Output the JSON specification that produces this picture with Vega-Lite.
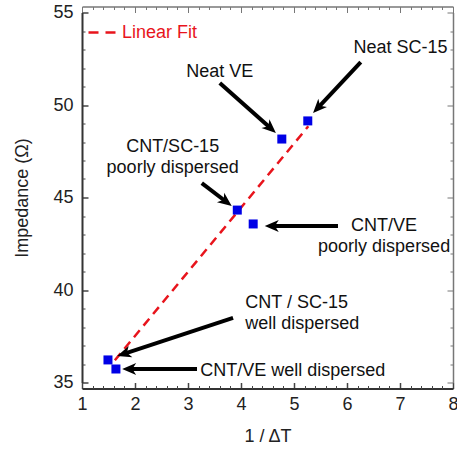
{
  "$schema": "https://vega.github.io/schema/vega-lite/v6.json",
  "width": 371,
  "height": 370,
  "autosize": {"type": "none"},
  "padding": {"left": 82, "top": 12.5, "right": 4, "bottom": 66.5},
  "background": "white",
  "config": {
    "view": {"stroke": null},
    "font": "Liberation Sans",
    "axis": {
      "grid": false,
      "labelFont": "Liberation Sans",
      "titleFont": "Liberation Sans",
      "labelFontSize": 18,
      "titleFontSize": 18,
      "titleFontWeight": "normal",
      "labelColor": "#222",
      "titleColor": "#222",
      "tickColor": "#444",
      "domainColor": "#333"
    }
  },
  "datasets": {
    "pts": [
      {"name": "Neat SC-15", "x": 5.26, "y": 49.14},
      {"name": "Neat VE", "x": 4.77, "y": 48.16},
      {"name": "CNT/SC-15 poorly dispersed", "x": 3.93, "y": 44.32},
      {"name": "CNT/VE poorly dispersed", "x": 4.23, "y": 43.57},
      {"name": "CNT/SC-15 well dispersed", "x": 1.49, "y": 36.22},
      {"name": "CNT/VE well dispersed", "x": 1.64, "y": 35.73}
    ],
    "fit": [
      {"x": 1.62, "y": 36.2, "series": "Linear Fit"},
      {"x": 5.27, "y": 48.85, "series": "Linear Fit"}
    ],
    "arrows": [
      {"x": 3.6, "y": 51.19, "x2": 4.56, "y2": 48.74, "dir": 41.8},
      {"x": 6.26, "y": 52.32, "x2": 5.45, "y2": 49.84, "dir": 133.3},
      {"x": 3.26, "y": 45.78, "x2": 3.72, "y2": 44.77, "dir": 37.5},
      {"x": 5.83, "y": 43.46, "x2": 4.58, "y2": 43.46, "dir": 180},
      {"x": 3.85, "y": 38.49, "x2": 1.79, "y2": 36.55, "dir": 161.9},
      {"x": 3.17, "y": 35.73, "x2": 1.89, "y2": 35.73, "dir": 180}
    ],
    "notesC": [
      {"text": "Neat VE", "x": 3.6, "y": 51.78},
      {"text": "Neat SC-15", "x": 7.01, "y": 53.08},
      {"text": "CNT/SC-15\npoorly dispersed", "x": 2.71, "y": 47.73},
      {"text": "CNT/VE\npoorly dispersed", "x": 6.7, "y": 43.46}
    ],
    "notesL": [
      {"text": "CNT / SC-15\nwell dispersed", "x": 4.08, "y": 39.3},
      {"text": "CNT/VE well dispersed", "x": 3.23, "y": 35.62}
    ]
  },
  "resolve": {"axis": {"x": "independent", "y": "independent"}},
  "layer": [
    {
      "data": {"name": "fit"},
      "mark": {"type": "line", "strokeDash": [9, 6], "strokeWidth": 2.5},
      "encoding": {
        "x": {"field": "x", "type": "quantitative",
          "scale": {"domain": [1, 8], "nice": false, "zero": false},
          "axis": {"orient": "bottom", "offset": 6, "values": [1, 2, 3, 4, 5, 6, 7, 8], "tickSize": -6, "tickWidth": 1.5, "labelPadding": 13, "domainWidth": 2, "title": "1 / ΔT", "titlePadding": 14, "labelFlush": false, "labelOverlap": false}},
        "y": {"field": "y", "type": "quantitative",
          "scale": {"domain": [35, 55], "nice": false, "zero": false},
          "axis": {"orient": "left", "values": [35, 40, 45, 50, 55], "tickSize": -6, "tickWidth": 1.5, "labelPadding": 15, "domainWidth": 2, "title": "Impedance (Ω)", "titlePadding": 21, "labelFlush": false, "labelOverlap": false}},
        "color": {"field": "series", "type": "nominal",
          "scale": {"range": ["#e8141c"]},
          "legend": {"title": null, "orient": "top-left", "offset": 5, "padding": 0, "symbolType": "stroke", "symbolSize": 729, "symbolStrokeWidth": 2.5, "symbolDash": [10, 7], "labelFontSize": 18, "labelFont": "Liberation Sans", "labelColor": "#e8141c", "labelOffset": 5}}
      }
    },
    {
      "data": {"name": "arrows"},
      "mark": {"type": "rule", "strokeWidth": 4, "color": "#000"},
      "encoding": {
        "x": {"field": "x", "type": "quantitative",
          "scale": {"domain": [1, 8], "nice": false, "zero": false},
          "axis": {"orient": "top", "offset": 6, "values": [1, 2, 3, 4, 5, 6, 7, 8], "tickSize": -6, "labels": false, "title": null, "domainColor": "#777", "domainWidth": 1.5, "tickColor": "#777"}},
        "y": {"field": "y", "type": "quantitative",
          "scale": {"domain": [35, 55], "nice": false, "zero": false},
          "axis": {"orient": "right", "values": [35, 40, 45, 50, 55], "tickSize": -6, "labels": false, "title": null, "domainColor": "#777", "domainWidth": 1.5, "tickColor": "#777"}},
        "x2": {"field": "x2"},
        "y2": {"field": "y2"}
      }
    },
    {
      "data": {"name": "arrows"},
      "mark": {"type": "point", "shape": "M1,0 L-1,-0.85 L-0.45,0 L-1,0.85 Z", "size": 196, "filled": true, "color": "#000", "opacity": 1},
      "encoding": {
        "x": {"field": "x2", "type": "quantitative",
          "scale": {"domain": [1, 8], "nice": false, "zero": false},
          "axis": {"orient": "bottom", "offset": 6, "values": [1.2, 1.4, 1.6, 1.8, 2.2, 2.4, 2.6, 2.8, 3.2, 3.4, 3.6, 3.8, 4.2, 4.4, 4.6, 4.8, 5.2, 5.4, 5.6, 5.8, 6.2, 6.4, 6.6, 6.8, 7.2, 7.4, 7.6, 7.8], "tickSize": -3, "labels": false, "domain": false, "title": null}},
        "y": {"field": "y2", "type": "quantitative",
          "scale": {"domain": [35, 55], "nice": false, "zero": false},
          "axis": {"orient": "left", "values": [36, 37, 38, 39, 41, 42, 43, 44, 46, 47, 48, 49, 51, 52, 53, 54], "tickSize": -3, "labels": false, "domain": false, "title": null}},
        "angle": {"field": "dir", "type": "quantitative", "scale": null}
      }
    },
    {
      "data": {"name": "pts"},
      "mark": {"type": "point", "shape": "square", "size": 81, "filled": true, "color": "#0000e6", "opacity": 1},
      "encoding": {
        "x": {"field": "x", "type": "quantitative",
          "scale": {"domain": [1, 8], "nice": false, "zero": false},
          "axis": {"orient": "top", "offset": 6, "values": [1.2, 1.4, 1.6, 1.8, 2.2, 2.4, 2.6, 2.8, 3.2, 3.4, 3.6, 3.8, 4.2, 4.4, 4.6, 4.8, 5.2, 5.4, 5.6, 5.8, 6.2, 6.4, 6.6, 6.8, 7.2, 7.4, 7.6, 7.8], "tickSize": -3, "labels": false, "domain": false, "title": null, "tickColor": "#777"}},
        "y": {"field": "y", "type": "quantitative",
          "scale": {"domain": [35, 55], "nice": false, "zero": false},
          "axis": {"orient": "right", "values": [36, 37, 38, 39, 41, 42, 43, 44, 46, 47, 48, 49, 51, 52, 53, 54], "tickSize": -3, "labels": false, "domain": false, "title": null, "tickColor": "#777"}}
      }
    },
    {
      "data": {"name": "notesC"},
      "mark": {"type": "text", "align": "center", "baseline": "middle", "fontSize": 18, "font": "Liberation Sans", "color": "#111", "lineBreak": "\n", "lineHeight": 21},
      "encoding": {
        "x": {"field": "x", "type": "quantitative", "scale": {"domain": [1, 8], "nice": false, "zero": false}, "axis": null},
        "y": {"field": "y", "type": "quantitative", "scale": {"domain": [35, 55], "nice": false, "zero": false}, "axis": null},
        "text": {"field": "text"}
      }
    },
    {
      "data": {"name": "notesL"},
      "mark": {"type": "text", "align": "left", "baseline": "middle", "fontSize": 18, "font": "Liberation Sans", "color": "#111", "lineBreak": "\n", "lineHeight": 21},
      "encoding": {
        "x": {"field": "x", "type": "quantitative", "scale": {"domain": [1, 8], "nice": false, "zero": false}, "axis": null},
        "y": {"field": "y", "type": "quantitative", "scale": {"domain": [35, 55], "nice": false, "zero": false}, "axis": null},
        "text": {"field": "text"}
      }
    }
  ]
}
